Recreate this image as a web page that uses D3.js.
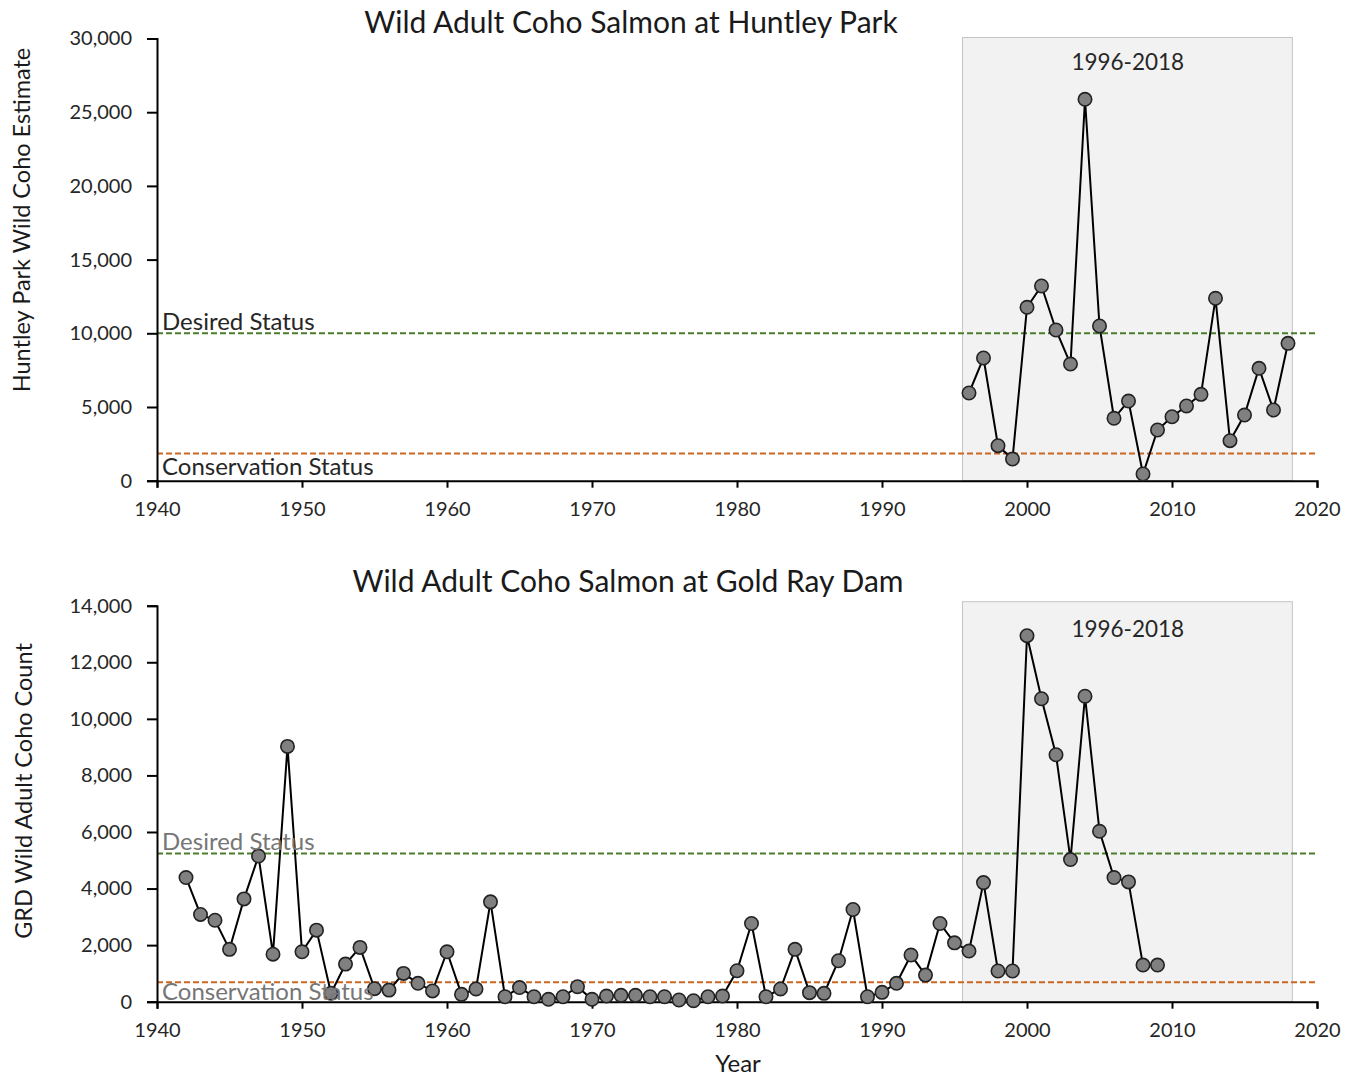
<!DOCTYPE html>
<html>
<head>
<meta charset="utf-8">
<script src="https://cdn.jsdelivr.net/npm/d3@7"></script>
<style>
  html, body { margin: 0; padding: 0; background: #fff; }
  svg { display: block; font-family: Lato, "Open Sans", sans-serif; }
</style>
</head>
<body>
<svg id="chart" width="1357" height="1077"></svg>
<script>
// Huntley Park wild coho estimates, 1996-2018
const huntleyYears = [1996, 1997, 1998, 1999, 2000, 2001, 2002, 2003, 2004, 2005, 2006, 2007,
  2008, 2009, 2010, 2011, 2012, 2013, 2014, 2015, 2016, 2017, 2018];
const huntleyCounts = [5950, 8325, 2375, 1470, 11765, 13210, 10225, 7915, 25875, 10495, 4235, 5405,
  455, 3440, 4340, 5070, 5860, 12375, 2715, 4455, 7625, 4795, 9320];

// Gold Ray Dam wild adult coho counts, 1942-2009
const grdYears = d3.range(1942, 2010);
const grdCounts = [4390, 3085, 2880, 1850, 3635, 5150, 1680, 9025, 1765, 2530,
  300, 1330, 1920, 460, 410, 1000, 650, 380, 1765, 260,
  450, 3530, 175, 500, 175, 85, 175, 530, 85, 200,
  225, 225, 175, 175, 60, 35, 175, 200, 1095, 2765,
  175, 450, 1850, 320, 295, 1447, 3260, 175, 330, 650,
  1650, 940, 2765, 2080, 1790, 4210, 1085, 1085, 12940, 10710,
  8730, 5025, 10800, 6025, 4390, 4235, 1295, 1295];

// Status thresholds
const huntleyDesired = 10000;
const huntleyConservation = 1850;
const grdDesired = 5240;
const grdConservation = 690;

// Highlighted period and axis ticks
const periodSpan = [1995.55, 2018.3];
const periodLabel = "1996-2018";
const yearTicks = d3.range(1940, 2021, 10);
const huntleyTicks = d3.range(0, 30001, 5000);
const grdTicks = d3.range(0, 14001, 2000);

const svg = d3.select("#chart");
const fmt = d3.format(",");

function panel(opts) {
  const x = d3.scaleLinear().domain([1940, 2020]).range([157, 1317]);
  const y = d3.scaleLinear().domain([0, opts.yMax]).range([opts.bottom, opts.top]);
  const g = svg.append("g");

  // shaded period
  g.append("rect")
    .attr("x", x(periodSpan[0]))
    .attr("y", y(opts.yMax) - opts.shadeLift)
    .attr("width", x(periodSpan[1]) - x(periodSpan[0]))
    .attr("height", y(0) - y(opts.yMax) + opts.shadeLift)
    .attr("fill", "#f2f2f2")
    .attr("stroke", "#c4c4c4")
    .attr("stroke-width", 1);

  g.append("text")
    .attr("x", x(2006.95))
    .attr("y", y(opts.yMax) + 31)
    .attr("text-anchor", "middle")
    .attr("font-size", 22.5)
    .attr("fill", "#262626")
    .text(periodLabel);

  // threshold lines
  const thresholds = [
    { v: opts.desired, color: "#4a7d2a", label: "Desired Status", dy: opts.desiredDy },
    { v: opts.conservation, color: "#cc6620", label: "Conservation Status", dy: opts.conservationDy }
  ];
  thresholds.forEach(t => {
    g.append("line")
      .attr("x1", x(1940)).attr("x2", x(2020))
      .attr("y1", y(t.v)).attr("y2", y(t.v))
      .attr("stroke", t.color)
      .attr("stroke-width", 2)
      .attr("stroke-dasharray", "6,3");
  });

  // axes
  const xAxis = d3.axisBottom(x).tickValues(yearTicks).tickFormat(d3.format("d"))
    .tickSize(7).tickPadding(14);
  const yAxis = d3.axisLeft(y).tickValues(opts.ticks).tickFormat(fmt)
    .tickSize(10).tickPadding(15);

  const gx = g.append("g").attr("transform", `translate(0,${opts.bottom})`).call(xAxis);
  const gy = g.append("g").attr("transform", "translate(157,0)").call(yAxis);
  [gx, gy].forEach(a => {
    a.select(".domain").attr("stroke", "#000").attr("stroke-width", 2);
    a.selectAll(".tick line").attr("stroke", "#000").attr("stroke-width", 2);
    a.selectAll(".tick text").attr("font-size", 20).attr("fill", "#262626")
      .attr("font-family", "Lato, sans-serif");
  });

  // series line and markers
  const pts = opts.years.map((yr, i) => [yr, opts.counts[i]]);
  g.append("path")
    .datum(pts)
    .attr("fill", "none")
    .attr("stroke", "#000")
    .attr("stroke-width", 2)
    .attr("d", d3.line().x(d => x(d[0])).y(d => y(d[1])));

  g.selectAll("circle.pt")
    .data(pts)
    .join("circle")
    .attr("class", "pt")
    .attr("cx", d => x(d[0]))
    .attr("cy", d => y(d[1]))
    .attr("r", 6.7)
    .attr("fill", "#808080")
    .attr("stroke", "#222")
    .attr("stroke-width", 1.6);

  // threshold labels
  thresholds.forEach(t => {
    g.append("text")
      .attr("x", 162)
      .attr("y", y(t.v) + t.dy)
      .attr("font-size", 24)
      .attr("fill", opts.labelColor)
      .text(t.label);
  });

  // title
  svg.append("text")
    .attr("x", opts.titleX)
    .attr("y", opts.titleY)
    .attr("text-anchor", "middle")
    .attr("font-size", 30)
    .attr("fill", "#1a1a1a")
    .text(opts.title);

  // y axis title
  svg.append("text")
    .attr("transform", `translate(${opts.yTitleX},${opts.yTitleY}) rotate(-90)`)
    .attr("text-anchor", "middle")
    .attr("font-size", 23.5)
    .attr("fill", "#1a1a1a")
    .text(opts.yTitle);
}

panel({
  years: huntleyYears, counts: huntleyCounts, yMax: 30000, ticks: huntleyTicks,
  top: 38.5, bottom: 480.7, shadeLift: 1,
  desired: huntleyDesired, conservation: huntleyConservation,
  desiredDy: -3, conservationDy: 22,
  labelColor: "#262626",
  title: "Wild Adult Coho Salmon at Huntley Park", titleX: 631, titleY: 33,
  yTitle: "Huntley Park Wild Coho Estimate", yTitleX: 30, yTitleY: 220
});

panel({
  years: grdYears, counts: grdCounts, yMax: 14000, ticks: grdTicks,
  top: 605.7, bottom: 1001.7, shadeLift: 4,
  desired: grdDesired, conservation: grdConservation,
  desiredDy: -3, conservationDy: 18,
  labelColor: "#767676",
  title: "Wild Adult Coho Salmon at Gold Ray Dam", titleX: 628, titleY: 592,
  yTitle: "GRD Wild Adult Coho Count", yTitleX: 32, yTitleY: 791
});

svg.append("text")
  .attr("x", 738)
  .attr("y", 1072)
  .attr("text-anchor", "middle")
  .attr("font-size", 24)
  .attr("fill", "#1a1a1a")
  .text("Year");
</script>
</body>
</html>
